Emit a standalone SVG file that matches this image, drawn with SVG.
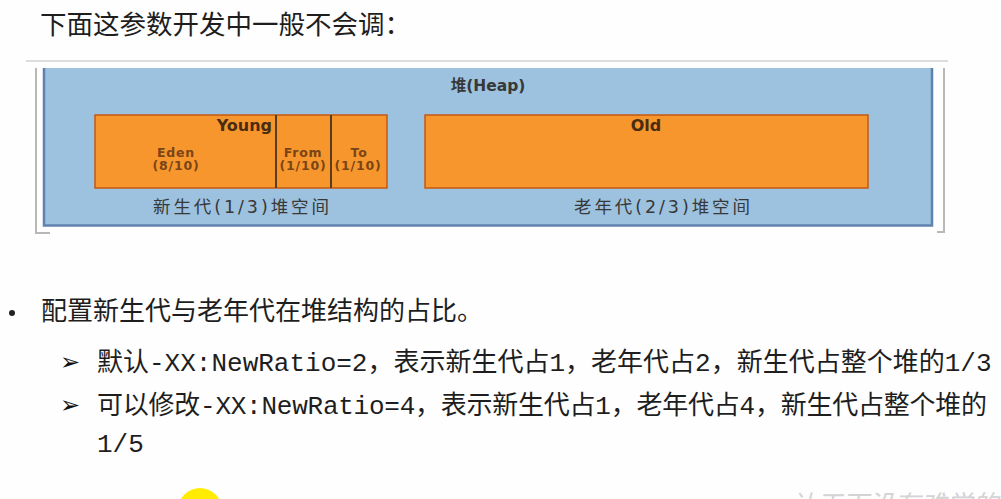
<svg xmlns="http://www.w3.org/2000/svg" width="1001" height="499" viewBox="0 0 1001 499">
<style>
.cjk{font-family:"Noto Sans CJK SC","Noto Sans",sans-serif;fill:#1e1e1e}
.mono{font-family:"Liberation Mono","DejaVu Sans Mono",monospace;font-size:26px}
.lbl{font-family:"DejaVu Sans","Noto Sans CJK SC",sans-serif;fill:#383838}
.bold{font-weight:bold}
.sub{font-family:"DejaVu Sans",sans-serif;font-size:12.5px;font-weight:bold;fill:#7a4516;letter-spacing:0.8px}
.gen{font-family:"DejaVu Sans",sans-serif;font-size:16px;font-weight:bold;fill:#4a2c10}
.box{fill:#f7962d;stroke:#c55a11;stroke-width:1.5}
.frame{stroke:#b8b8b8;stroke-width:2;fill:none}
.arrow{font-family:"DejaVu Sans",sans-serif;font-size:24px;fill:#111}
</style>
<rect width="1001" height="499" fill="#fefefe"/>

<text class="cjk" x="40" y="34" font-size="26.5">下面这参数开发中一般不会调：</text>

<g id="frame">
  <line x1="26" y1="61" x2="948" y2="61" stroke="#dcdcdc" stroke-width="2"/>
  <polyline class="frame" points="36,68 36,233 50,233"/>
  <polyline class="frame" points="937,232 944,232 944,68"/>
</g>

<g id="heap">
  <rect x="43" y="68" width="890" height="158" fill="#9dc2df"/>
  <polyline points="44,68 44,225.5 932,225.5 932,68" fill="none" stroke="#5f82ad" stroke-width="2.5"/>
  <text class="lbl bold" x="488" y="91" font-size="15.5" text-anchor="middle">堆(Heap)</text>
</g>

<g id="young">
  <rect class="box" x="95" y="115" width="292" height="73"/>
  <text class="gen" x="272" y="131" text-anchor="end">Young</text>
  <text class="lbl" x="241" y="213" font-size="17.5" text-anchor="middle" textLength="176" lengthAdjust="spacing">新生代(1/3)堆空间</text>
</g>

<g id="eden">
  <text class="sub" x="176" y="157" text-anchor="middle">Eden</text>
  <text class="sub" x="176" y="170" text-anchor="middle">(8/10)</text>
</g>

<g id="from">
  <line x1="276" y1="115" x2="276" y2="188" stroke="#5a3d1f" stroke-width="2"/>
  <text class="sub" x="303" y="157" text-anchor="middle">From</text>
  <text class="sub" x="303" y="170" text-anchor="middle" letter-spacing="0">(1/10)</text>
</g>

<g id="to">
  <line x1="331" y1="115" x2="331" y2="188" stroke="#5a3d1f" stroke-width="2"/>
  <text class="sub" x="359" y="157" text-anchor="middle">To</text>
  <text class="sub" x="358" y="170" text-anchor="middle" letter-spacing="0">(1/10)</text>
</g>

<g id="old">
  <rect class="box" x="425" y="115" width="443" height="73"/>
  <text class="gen" x="646" y="131" text-anchor="middle">Old</text>
  <text class="lbl" x="662" y="213" font-size="17.5" text-anchor="middle" textLength="176" lengthAdjust="spacing">老年代(2/3)堆空间</text>
</g>

<g id="connectors"></g>

<g id="bullets">
  <circle cx="12" cy="313" r="3" fill="#222"/>
  <text class="cjk" x="41" y="320" font-size="26">配置新生代与老年代在堆结构的占比。</text>
  <text class="arrow" x="60" y="370">➢</text>
  <text class="cjk" x="97" y="371" font-size="26">默认<tspan class="mono">-XX:NewRatio=2</tspan>，表示新生代占<tspan class="mono">1</tspan>，老年代占<tspan class="mono">2</tspan>，新生代占整个堆的<tspan class="mono">1/3</tspan></text>
  <text class="arrow" x="60" y="413">➢</text>
  <text class="cjk" x="97" y="414" font-size="26" textLength="890" lengthAdjust="spacing">可以修改<tspan class="mono">-XX:NewRatio=4</tspan>，表示新生代占<tspan class="mono">1</tspan>，老年代占<tspan class="mono">4</tspan>，新生代占整个堆的</text>
  <text class="cjk" x="97" y="452" font-size="26"><tspan class="mono">1/5</tspan></text>
</g>

<circle cx="200" cy="510" r="22" fill="#ffec00"/>
<text x="790" y="514" font-family="Noto Sans CJK SC,sans-serif" font-size="26" fill="#d4d4d4" font-style="italic">让天下没有难学的技术</text>
</svg>
